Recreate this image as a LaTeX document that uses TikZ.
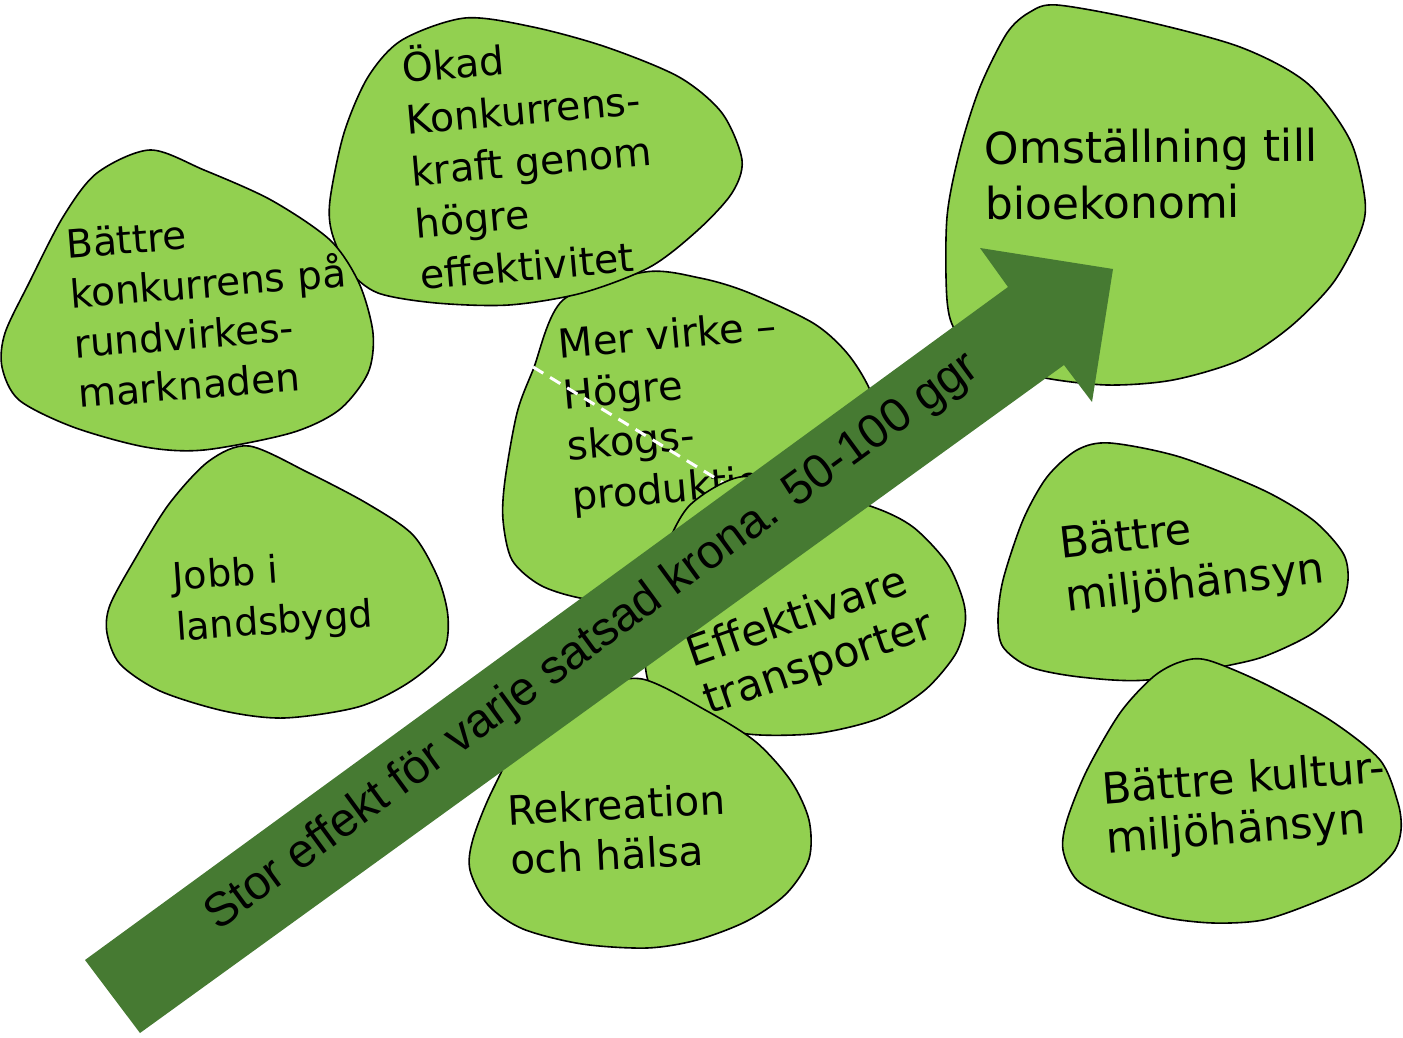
\documentclass[tikz,border=0pt]{standalone}
\usepackage{fontspec}
\setmainfont{DejaVu Sans}
\newfontfamily\arialfont{Liberation Sans}
\usepackage{xcolor}

\definecolor{blobgreen}{RGB}{146,208,80}
\definecolor{arrowgreen}{RGB}{70,122,50}

\begin{document}
\begin{tikzpicture}[
    x=1pt, y=-1pt,
    blob/.style={
        draw=black,
        line width=1.6pt,
        fill=blobgreen
    },
    blobtext/.style={
        anchor=base west,
        align=left,
        inner sep=0pt
    }
]
    \useasboundingbox (0,0) rectangle (1403,1038);

    % 1. Mer virke (Middle)
    \draw[blob] plot[smooth cycle] coordinates {(563,300) (645,272) (700,278) (747,292) (813,323) (847,353) (870,390) (885,440) (870,500) (810,560) (720,598) (640,605) (580,598) (540,585) (512,560) (503,520) (505,480) (517,413) (533,370)};
    \node (virke) [blobtext, rotate=5, font=\fontsize{40}{51}\selectfont] at (573,511) {
        Mer virke –\\
        Högre\\
        skogs-\\
        produktion
    };
    \coordinate (dashstart) at (533,367);
    \coordinate (dashend) at (740,493);
    \draw[white, line width=3pt, dash pattern=on 12pt off 8pt] (dashstart) -- (dashend);

    % 2. Okad konkurrenskraft (Top Middle)
    \draw[blob] plot[smooth cycle] coordinates {(465,18) (533,27) (606,47) (679,77) (722,113) (742,160) (732,193) (698,230) (650,267) (582,293) (509,305) (436,303) (378,293) (349,270) (332,233) (330,200) (344,133) (368,77) (402,40)};
    \node (konkurrenskraft) [blobtext, rotate=5, font=\fontsize{39.5}{52}\selectfont] at (421,290) {
        Ökad\\
        Konkurrens-\\
        kraft genom\\
        högre\\
        effektivitet
    };

    % 3. Rundvirkesmarknaden (Top Left)
    \draw[blob] plot[smooth cycle] coordinates {(150,150) (204,170) (271,200) (330,240) (359,283) (373,333) (368,373) (339,410) (291,433) (204,450) (145,447) (73,427) (19,400) (2,367) (5,333) (29,283) (63,217) (97,173)};
    \node (rundvirke) [blobtext, rotate=4.5, font=\fontsize{39}{50}\selectfont] at (79,408) {
        Bättre\\
        konkurrens på\\
        rundvirkes-\\
        marknaden
    };

    % 4. Jobb (Middle Left)
    \draw[blob] plot[smooth cycle] coordinates {(249,446) (309,473) (368,504) (413,535) (438,578) (448,617) (443,652) (408,683) (358,707) (284,718) (224,711) (160,691) (120,664) (107,633) (110,605) (135,559) (169,504) (209,461)};
    \node (jobb) [blobtext, rotate=4, font=\fontsize{38}{51}\selectfont] at (177,641) {
        Jobb i\\
        landsbygd
    };

    % 5. Transporter (Middle)
    \draw[blob] plot[smooth cycle] coordinates {(740,477) (800,487) (873,507) (913,527) (947,563) (963,600) (965,625) (955,655) (925,690) (880,718) (820,733) (760,735) (715,728) (675,710) (652,690) (645,660) (650,600) (665,550) (690,505)};
    \node (transport) [blobtext, rotate=19, font=\fontsize{42.5}{50}\selectfont] at (709,715) {
        Effektivare\\
        transporter
    };

    % 6. Rekreation (Bottom)
    \draw[blob] plot[smooth cycle] coordinates {(642,679) (707,711) (756,742) (791,781) (809,820) (809,859) (786,894) (747,921) (697,940) (647,948) (582,944) (523,929) (488,905) (470,870) (473,839) (493,789) (530,725) (590,690)};
    \node (rekreation) [blobtext, rotate=3, font=\fontsize{40.5}{50}\selectfont] at (511,875) {
        Rekreation\\
        och hälsa
    };

    % 7. Bioekonomi (Top Right)
    \draw[blob] plot[smooth cycle] coordinates {(1057,5) (1140,20) (1240,47) (1307,83) (1350,140) (1365,200) (1360,233) (1333,283) (1290,327) (1240,360) (1173,380) (1107,385) (1040,377) (990,360) (957,333) (947,300) (947,217) (960,150) (980,87) (1007,33) (1030,12)};
    \node (bioekonomi) [blobtext, rotate=0.5, font=\fontsize{44}{56}\selectfont] at (985,220) {
        Omställning till\\
        bioekonomi
    };

    % 8. Miljohansyn (Middle Right)
    \draw[blob] plot[smooth cycle] coordinates {(1110,443) (1180,457) (1263,490) (1313,520) (1343,553) (1348,580) (1340,607) (1313,633) (1273,653) (1240,663) (1147,680) (1080,677) (1030,667) (1003,647) (998,620) (1003,580) (1023,520) (1047,477) (1077,450)};
    \node (miljo) [blobtext, rotate=6.5, font=\fontsize{43}{54}\selectfont] at (1067,612) {
        Bättre\\
        miljöhänsyn
    };

    % 9. Kulturmiljohansyn (Bottom Right)
    \draw[blob] plot[smooth cycle] coordinates {(1207,660) (1263,683) (1330,720) (1380,760) (1398,803) (1401,830) (1393,853) (1363,880) (1313,903) (1263,920) (1213,923) (1163,917) (1113,900) (1077,880) (1063,850) (1067,820) (1087,770) (1120,713) (1153,677) (1180,662)};
    \node (kultur) [blobtext, rotate=4.5, font=\fontsize{43}{50}\selectfont] at (1107,854) {
        Bättre kultur-\\
        miljöhänsyn
    };

    % Big arrow across everything
    \fill[arrowgreen] (85,960) -- (1008,287) -- (980,248) -- (1113,269) -- (1092,402) -- (1064,365) -- (140,1033) -- cycle;
    \node (effekt) [anchor=base, inner sep=0pt, rotate=36.2, font=\arialfont\fontsize{47.5}{56}\selectfont] at (600,652) {Stor effekt för varje satsad krona. 50-100 ggr};

\end{tikzpicture}
\end{document}
